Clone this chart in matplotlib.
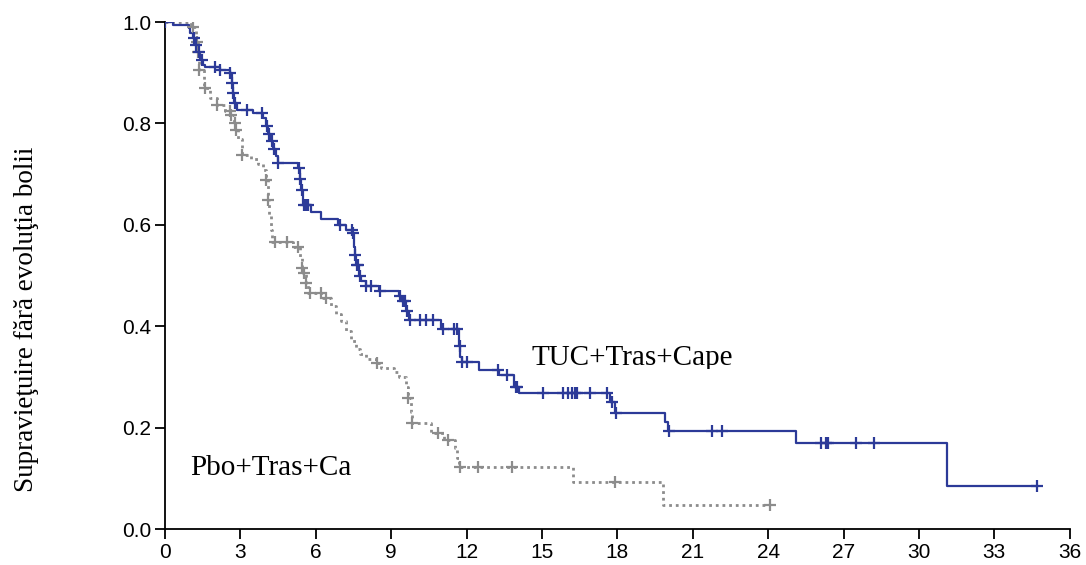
import numpy as np
import matplotlib
matplotlib.use("Agg")
import matplotlib.pyplot as plt
from matplotlib.patches import Rectangle

# TUC+Tras+Cape (blue) step curve: event times and survival after each event
blue_t = [0, 0.3, 0.95, 1.0, 1.1, 1.2, 1.3, 1.4, 1.5, 1.6, 2.2, 2.6, 2.65, 2.7, 2.75, 2.85,
          3.5, 3.9, 4.0, 4.1, 4.2, 4.3, 4.4, 4.5, 5.3, 5.35, 5.4, 5.5, 5.8, 6.2, 6.9, 7.2,
          7.45, 7.5, 7.55, 7.6, 7.7, 7.8, 8.0, 8.5, 9.3, 9.4, 9.6, 9.7, 11.0, 11.7, 11.75,
          11.8, 12.5, 13.3, 13.9, 14.1, 17.7, 17.9, 19.9, 20.0, 25.1, 31.1]
blue_s = [1.0, 0.994, 0.988, 0.978, 0.968, 0.955, 0.94, 0.925, 0.915, 0.911, 0.905, 0.9, 0.88,
          0.86, 0.84, 0.826, 0.82, 0.81, 0.795, 0.78, 0.765, 0.75, 0.735, 0.722, 0.712, 0.69,
          0.668, 0.64, 0.625, 0.611, 0.6, 0.59, 0.584, 0.556, 0.54, 0.52, 0.5, 0.49, 0.48,
          0.47, 0.46, 0.45, 0.43, 0.412, 0.395, 0.36, 0.34, 0.33, 0.314, 0.304, 0.28, 0.268,
          0.25, 0.229, 0.211, 0.193, 0.17, 0.085]
blue_end = 34.7
blue_cens = [0, 1.15, 1.25, 1.35, 1.45, 2.0, 2.2, 2.6, 2.67, 2.72, 2.8, 3.27, 3.86, 4.05, 4.15,
             4.25, 4.35, 4.5, 5.32, 5.38, 5.45, 5.52, 5.6, 5.7, 6.96, 7.44, 7.48, 7.55, 7.62,
             7.68, 7.76, 8.0, 8.2, 8.55, 9.35, 9.45, 9.55, 9.63, 9.75, 10.14, 10.4, 10.66,
             11.06, 11.5, 11.6, 11.73, 11.8, 12.0, 13.25, 13.6, 13.95, 14.0, 15.04, 15.83,
             16.03, 16.19, 16.31, 16.39, 16.9, 17.58, 17.8, 17.95, 20.05, 21.76, 22.16, 26.1,
             26.3, 26.4, 27.5, 28.2, 34.7]

# Pbo+Tras+Ca (grey) step curve
grey_t = [0, 1.05, 1.25, 1.3, 1.35, 1.55, 1.8, 2.05, 2.4, 2.6, 2.75, 2.8, 2.9, 3.05, 3.4, 3.7,
          3.9, 4.02, 4.1, 4.15, 4.2, 4.26, 5.1, 5.37, 5.45, 5.5, 5.6, 5.7, 6.3, 6.6, 6.8, 7.0,
          7.2, 7.4, 7.6, 7.76, 8.0, 8.4, 8.6, 9.1, 9.3, 9.6, 9.67, 9.8, 9.83, 10.6, 11.1,
          11.55, 11.62, 11.7, 16.25, 19.8]
grey_s = [1.0, 0.99, 0.96, 0.94, 0.905, 0.87, 0.85, 0.836, 0.825, 0.817, 0.80, 0.787, 0.77,
          0.738, 0.73, 0.72, 0.708, 0.688, 0.649, 0.62, 0.59, 0.566, 0.556, 0.536, 0.515,
          0.505, 0.485, 0.465, 0.455, 0.44, 0.425, 0.41, 0.39, 0.37, 0.355, 0.345, 0.335,
          0.327, 0.318, 0.31, 0.30, 0.28, 0.258, 0.23, 0.209, 0.19, 0.175, 0.16, 0.14, 0.122,
          0.093, 0.047]
grey_end = 24.07
grey_cens = [1.11, 1.27, 1.32, 1.37, 1.59, 2.07, 2.59, 2.62, 2.78, 2.82, 3.06, 4.02, 4.1,
             4.38, 4.85, 5.29, 5.45, 5.52, 5.6, 5.77, 6.2, 6.4, 8.43, 9.67, 9.83, 10.86,
             11.26, 11.73, 12.45, 13.8, 17.9, 24.07]

x_ticks = [0, 3, 6, 9, 12, 15, 18, 21, 24, 27, 30, 33, 36]
y_ticks = [0.0, 0.2, 0.4, 0.6, 0.8, 1.0]

BLUE = "#2C3A98"
GREY = "#8C8C8C"


def surv_at(times, surv, t):
    # value of the step function just after time t
    idx = np.searchsorted(times, t, side="right") - 1
    return np.asarray(surv)[idx]


def draw_km(ax, times, surv, end, cens, color, ls, lw):
    t = list(times) + [end]
    s = list(surv) + [surv[-1]]
    ax.step(t, s, where="post", color=color, linestyle=ls, linewidth=lw, zorder=2)
    cy = surv_at(times, surv, np.array(cens))
    ax.plot(cens, cy, linestyle="none", marker="+", markersize=9, mew=1.6,
            color=color, zorder=3)


fig = plt.figure(figsize=(10.86, 5.65), dpi=100)
ax = fig.add_axes([0.152, 0.0637, 0.833, 0.8973])

draw_km(ax, grey_t, grey_s, grey_end, grey_cens, GREY, (0, (1, 1.4)), 2.0)
draw_km(ax, blue_t, blue_s, blue_end, blue_cens, BLUE, "-", 1.6)

ax.set_xlim(0, 36)
ax.set_ylim(0, 1.0)
ax.set_xticks(x_ticks)
ax.set_yticks(y_ticks)
ax.set_yticklabels([f"{v:.1f}" for v in y_ticks])
for s in ["top", "right"]:
    ax.spines[s].set_visible(False)
for s in ["left", "bottom"]:
    ax.spines[s].set_linewidth(1.3)
    ax.spines[s].set_clip_on(False)
tick_font = ["Liberation Sans", "DejaVu Sans"]
ax.tick_params(axis="both", direction="out", length=7, width=1.3, labelsize=15, pad=3)
for lab in ax.get_xticklabels() + ax.get_yticklabels():
    lab.set_family(tick_font)

serif = ["Liberation Serif", "DejaVu Serif"]
# the group label is cut off at the bottom in the original
clip = Rectangle((10, 0.3156), 20, 0.2, transform=ax.transData)
t1 = ax.text(18.6, 0.337, "TUC+Tras+Cape", fontsize=21, family=serif, ha="center", va="center")
t1.set_clip_on(True)
t1.set_clip_path(clip)
ax.text(1.0, 0.12, "Pbo+Tras+Ca", fontsize=21, family=serif, ha="left", va="center")

fig.text(0.024, 0.434, "Supravieţuire fără evoluţia bolii", rotation=90, fontsize=19.5,
         family=serif, ha="center", va="center")

fig.savefig("out.png", dpi=100)
